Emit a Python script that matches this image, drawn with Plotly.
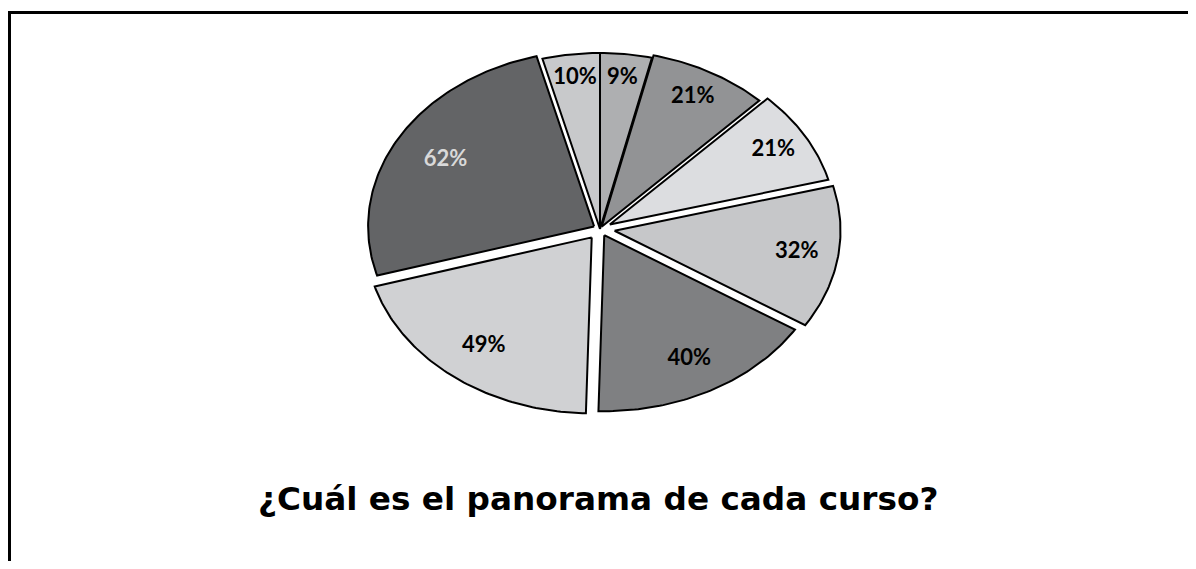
import numpy as np
import plotly.graph_objects as go

# ---- data (clockwise from 12 o'clock) ----
categories = ["Curso 1", "Curso 2", "Curso 3", "Curso 4", "Curso 5", "Curso 6", "Curso 7", "Curso 8"]
values = [9, 21, 21, 32, 40, 49, 62, 10]
labels = [f"{v}%" for v in values]

# ---- style ----
colors = ["#aeafb1", "#929395", "#dcdde0", "#c6c7c9", "#7f8082", "#d0d1d3", "#636466", "#c8c9cb"]
label_colors = ["black", "black", "black", "black", "black", "black", "#d9d9d9", "black"]
pulls = [0.0, 0.015, 0.05, 0.065, 0.04, 0.06, 0.03, 0.0]

W, H = 1188, 553       # figure size (page has 8px body margin)
OFF = 8
CX, CY = 600, 229      # pie centre on screen
RX, RY = 226, 176      # pie radii on screen (elliptical)

total = float(sum(values))
fig = go.Figure()

start = 0.0
lx, ly = [], []
for i, v in enumerate(values):
    span = v / total * 2 * np.pi
    a0, a1 = start, start + span
    mid = (a0 + a1) / 2
    px, py = pulls[i] * np.sin(mid), pulls[i] * np.cos(mid)
    t = np.linspace(a0, a1, max(8, int(span / (2 * np.pi) * 400)))
    xs = np.concatenate([[px], px + np.sin(t), [px]])
    ys = np.concatenate([[py], py + np.cos(t), [py]])
    fig.add_trace(go.Scatter(
        x=xs, y=ys, mode="lines", fill="toself",
        fillcolor=colors[i], line=dict(color="black", width=2),
        name=categories[i], hoverinfo="skip", showlegend=False,
    ))
    lr = 0.88 - 0.002 * v          # larger slices: labels nearer the centre
    lx.append(px + lr * np.sin(mid))
    ly.append(py + lr * np.cos(mid))
    start = a1

fig.add_trace(go.Scatter(
    x=lx, y=ly, mode="text", text=[f"<b>{t}</b>" for t in labels],
    textfont=dict(family="Lato", size=22, color=label_colors),
    hoverinfo="skip", showlegend=False,
))

xmin = -(CX - OFF) / RX
xmax = (OFF + W - CX) / RX
ymax = (CY - OFF) / RY
ymin = -(OFF + H - CY) / RY

fig.update_xaxes(range=[xmin, xmax], visible=False, domain=[0, 1])
fig.update_yaxes(range=[ymin, ymax], visible=False, domain=[0, 1])

fig.add_shape(type="rect", xref="paper", yref="paper",
              x0=1.5 / W, x1=1.2, y0=-0.2, y1=1 - 4.5 / H,
              line=dict(color="black", width=3), layer="above")

fig.add_annotation(
    text="<b>¿Cuál es el panorama de cada curso?</b>",
    xref="paper", yref="paper",
    x=(598 - OFF) / W, y=1 - (499 - OFF) / H,
    xanchor="center", yanchor="middle", showarrow=False,
    font=dict(family="DejaVu Sans", size=32.7, color="black"),
)

fig.update_layout(
    width=W, height=H,
    margin=dict(l=0, r=0, t=0, b=0),
    paper_bgcolor="white", plot_bgcolor="white",
    font=dict(family="Lato"),
)

fig.write_html("out.html")
